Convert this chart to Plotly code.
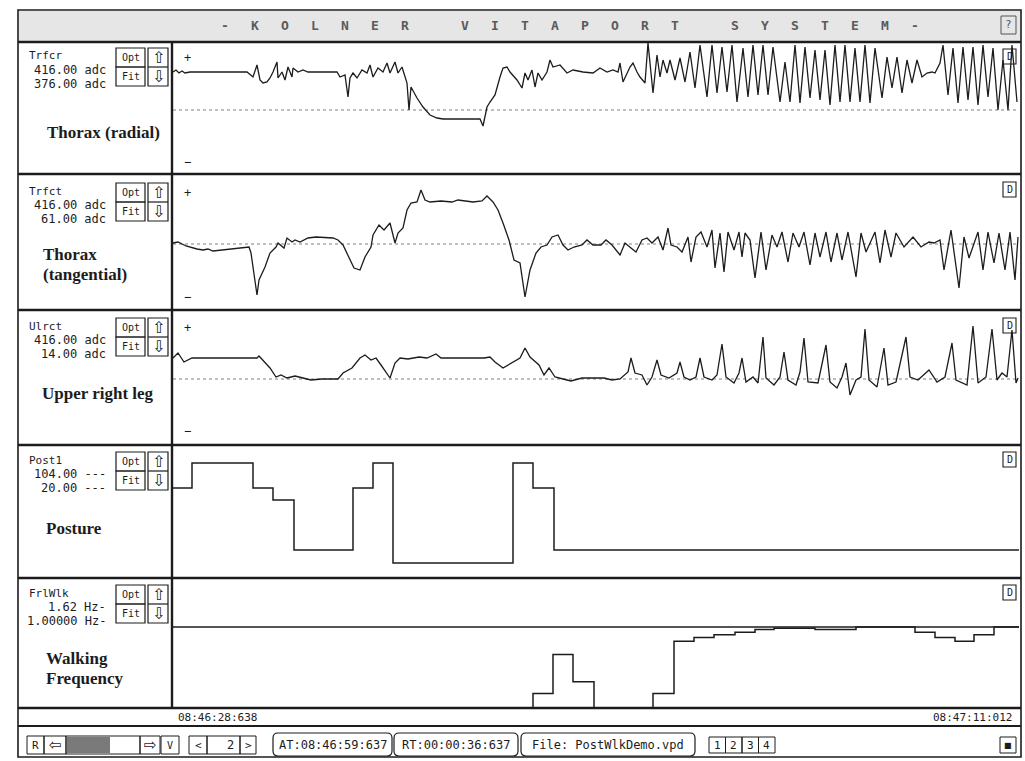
import plotly.graph_objects as go

# ---------------- data (sample index 0..846 across the displayed window) ----------------
N_SAMPLES = 846
TIME_START = "08:46:28:638"
TIME_END = "08:47:11:012"
CURSOR_AT = "AT:08:46:59:637"
CURSOR_RT = "RT:00:00:36:637"
FILE_NAME = "File: PostWlkDemo.vpd"
PAGE_NO = "2"
TITLE = "-KOLNER VITAPORT SYSTEM-"

channel_codes = ["Trfcr", "Trfct", "Ulrct", "Post1", "FrlWlk"]
scale_high = ["416.00 adc", "416.00 adc", "416.00 adc", "104.00 ---", "1.62 Hz-"]
scale_low = ["376.00 adc", "61.00 adc", "14.00 adc", "20.00 ---", "1.00000 Hz-"]
channel_titles = [["Thorax (radial)"], ["Thorax", "(tangential)"], ["Upper right leg"],
                  ["Posture"], ["Walking", "Frequency"]]

# Thorax (radial): (sample, amplitude above dotted baseline)
thorax_radial = [(0,38),(3,40),(6,37),(9,39),(12,37),(17,38),(70,38),(74,38),(80,33),(84,45),(87,30),(90,27),
    (94,28),(97,32),(100,38),(104,48),(105,32),(109,38),(112,30),(115,43),(119,33),(120,42),(125,38),(130,40),
    (135,38),(164,38),(167,33),(172,35),(175,13),(177,32),(180,37),(184,32),(189,40),(194,37),(197,45),(200,33),
    (205,42),(210,38),(214,47),(217,37),(222,48),(225,37),(229,43),(232,33),(234,27),(236,0),(238,23),(244,12),
    (250,3),(257,-5),(264,-8),(270,-9),(307,-9),(310,-16),(314,3),(317,8),(322,15),(327,33),(330,42),(334,43),
    (337,38),(344,30),(349,22),(352,37),(355,30),(359,40),(362,23),(365,37),(369,30),(374,38),(377,50),(380,43),
    (387,45),(394,37),(400,40),(410,38),(420,37),(427,42),(434,38),(440,40),(445,38),(447,47),(450,28),(457,43),
    (460,47),(464,38),(467,33),(472,27),(475,67),(480,17),(484,55),(487,33),(490,50),(494,37),(497,50),(502,30),
    (507,52),(512,28),(517,58),(522,22),(527,65),(534,13),(539,65),(544,17),(549,63),(554,18),(559,65),(564,8),
    (570,62),(575,13),(580,65),(585,15),(590,65),(595,15),(600,63),(607,8),(612,48),(617,8),(622,65),(627,7),
    (632,63),(637,12),(642,60),(647,10),(652,60),(657,5),(662,65),(667,8),(672,65),(677,8),(682,62),(687,8),
    (692,65),(697,7),(702,62),(709,12),(714,53),(719,22),(724,53),(729,17),(734,50),(739,27),(744,50),(749,33),
    (754,37),(759,38),(762,37),(767,47),(770,65),(775,15),(780,62),(785,7),(790,63),(795,10),(800,63),(805,5),
    (810,65),(815,13),(820,62),(825,0),(830,50),(835,0),(839,65),(844,8)]

# Thorax (tangential)
thorax_tangential = [(0,1),(5,2),(13,-2),(19,-4),(24,-5),(30,-6),(35,-5),(40,-7),(51,-6),(73,-4),(76,-3),(78,-9),
    (84,-51),(86,-36),(92,-23),(97,-9),(103,-3),(105,1),(111,-4),(114,6),(119,2),(122,4),(127,2),(135,6),(143,7),
    (160,6),(165,4),(170,-1),(176,-13),(181,-24),(187,-26),(192,-13),(198,-3),(200,9),(206,19),(211,14),(217,21),
    (222,1),(225,11),(230,16),(234,34),(238,41),(244,42),(248,54),(252,44),(257,42),(268,43),(279,42),(285,44),
    (295,43),(300,42),(309,43),(314,48),(320,42),(325,34),(330,21),(336,4),(341,-16),(347,-19),(352,-53),(357,-26),
    (363,-9),(368,-3),(374,-1),(379,7),(385,9),(390,-1),(395,-6),(401,-3),(409,-1),(414,4),(420,-1),(428,-1),
    (433,4),(439,-1),(447,-11),(452,1),(458,-4),(463,-8),(469,4),(474,6),(479,1),(485,7),(490,-6),(495,16),
    (498,-1),(504,-3),(509,-8),(515,7),(518,-18),(523,7),(528,12),(534,-3),(539,14),(542,-24),(547,11),(551,-28),
    (555,12),(561,-6),(566,12),(569,-13),(572,11),(577,4),(582,-34),(588,12),(593,-26),(599,9),(604,-3),(609,12),
    (615,-18),(620,11),(626,-3),(631,12),(637,-21),(642,11),(647,-13),(653,12),(658,-18),(664,11),(669,-16),
    (675,12),(683,-33),(688,11),(693,-8),(702,12),(707,-19),(712,14),(718,-13),(723,11),(731,-3),(740,7),(748,-3),
    (756,2),(761,1),(767,4),(771,-26),(778,14),(786,-44),(791,7),(796,-14),(805,12),(810,-26),(815,12),(821,-19),
    (826,11),(832,-26),(837,12),(842,-36),(845,7)]

# Upper right leg
upper_right_leg = [(0,21),(5,26),(11,17),(19,21),(30,21),(84,21),(86,23),(92,17),(97,11),(103,2),(108,4),(114,1),
    (122,3),(130,1),(138,-1),(149,0),(165,0),(170,6),(179,11),(187,21),(192,24),(198,19),(203,21),(208,14),(217,1),
    (222,16),(227,21),(235,20),(246,22),(254,21),(263,25),(268,21),(279,21),(311,21),(317,22),(322,17),(330,11),
    (338,16),(347,21),(352,31),(357,22),(366,14),(371,4),(376,11),(382,2),(390,0),(398,-2),(409,1),(425,1),(431,1),
    (439,-1),(447,0),(455,7),(458,21),(462,6),(469,4),(474,-6),(479,2),(484,19),(488,4),(496,1),(504,6),(507,17),
    (511,2),(517,-1),(523,2),(527,21),(531,2),(539,-1),(544,4),(549,35),(553,2),(561,-4),(566,6),(569,21),(573,-3),
    (580,2),(585,-4),(590,42),(593,1),(601,-6),(607,2),(611,27),(615,-1),(623,-6),(627,7),(631,41),(635,-3),
    (645,-4),(653,34),(657,-3),(664,-9),(669,2),(673,16),(677,-16),(683,-1),(688,2),(692,50),(696,-1),(704,-8),
    (711,31),(715,-6),(723,-3),(733,42),(737,2),(745,-1),(756,9),(764,-3),(772,2),(779,36),(783,-1),(794,-6),
    (800,53),(805,-4),(813,2),(819,50),(824,-1),(829,6),(834,2),(839,49),(843,-4),(845,1)]

# Posture (step levels)
posture_t = [0, 19, 80, 100, 121, 180, 200, 220, 340, 360, 381, 846]
posture_v = [90, 115, 90, 78, 28, 90, 115, 15, 115, 90, 28, 28]

# Walking frequency (Hz, steps)
walk_t = [0, 360, 380, 400, 421, 480, 501, 521, 541, 562, 582, 601, 642, 683, 742, 762, 782, 801, 821, 846]
walk_hz = [1.00, 1.11, 1.41, 1.20, 1.00, 1.11, 1.51, 1.54, 1.56, 1.58, 1.60, 1.61, 1.60, 1.62, 1.58, 1.54,
           1.51, 1.56, 1.62, 1.62]
WALK_LIMIT_HZ = 1.62

# ---------------- layout helpers (pixel -> paper) ----------------
W, H = 1025, 761
def X(px): return px / W
def Y(py): return 1 - py / H

MONO = "DejaVu Sans Mono"
SERIF = "Liberation Serif"
INK = "#1c1c1c"

PLOT_L, PLOT_R = 173, 1019
panels = [  # (top px, bottom px, y range)
    (43, 173, (-63, 67)),
    (175, 309, (-65, 69)),
    (311, 444, (-65, 68)),
    (446, 577, (1, 132)),
    (579, 708, (1.0, 1.987)),
]

fig = go.Figure()

def ax(i):
    return ("x", "y") if i == 1 else (f"x{i}", f"y{i}")

signals = [
    ([p[0] for p in thorax_radial], [p[1] for p in thorax_radial], "linear"),
    ([p[0] for p in thorax_tangential], [p[1] for p in thorax_tangential], "linear"),
    ([p[0] for p in upper_right_leg], [p[1] for p in upper_right_leg], "linear"),
    (posture_t, posture_v, "hv"),
    (walk_t, walk_hz, "hv"),
]
for i, (t, v, shp) in enumerate(signals, start=1):
    xa, ya = ax(i)
    fig.add_trace(go.Scatter(x=t, y=v, mode="lines", xaxis=xa, yaxis=ya, hoverinfo="skip",
                             line=dict(color=INK, width=1.5 if shp == "hv" else 1.3, shape=shp)))

layout = dict(width=W, height=H, margin=dict(l=0, r=0, t=0, b=0), paper_bgcolor="white",
              plot_bgcolor="rgba(0,0,0,0)", showlegend=False)
for i, (top, bot, rng) in enumerate(panels, start=1):
    sx = "" if i == 1 else str(i)
    layout[f"xaxis{sx}"] = dict(domain=[X(PLOT_L), X(PLOT_R)], range=[0, N_SAMPLES], visible=False,
                                anchor=f"y{sx}", fixedrange=True)
    layout[f"yaxis{sx}"] = dict(domain=[Y(bot), Y(top)], range=list(rng), visible=False,
                                anchor=f"x{sx}", fixedrange=True)
fig.update_layout(**layout)

shapes = []
annots = []

def line(x0, y0, x1, y1, w=1.0, color=INK, dash=None):
    d = dict(color=color, width=w)
    if dash: d["dash"] = dash
    shapes.append(dict(type="line", xref="paper", yref="paper", x0=X(x0), y0=Y(y0), x1=X(x1), y1=Y(y1),
                       line=d, layer="above"))

def rect(x0, y0, x1, y1, w=1.0, color=INK, fill="rgba(0,0,0,0)", layer="above"):
    shapes.append(dict(type="rect", xref="paper", yref="paper", x0=X(x0), y0=Y(y1), x1=X(x1), y1=Y(y0),
                       line=dict(color=color, width=w), fillcolor=fill, layer=layer))

def rrect(x0, y0, x1, y1, r=5, w=1.2):
    rx, ry = r / W, r / H
    L, R, T, B = X(x0), X(x1), Y(y0), Y(y1)
    path = (f"M {L+rx},{T} L {R-rx},{T} Q {R},{T} {R},{T-ry} L {R},{B+ry} Q {R},{B} {R-rx},{B} "
            f"L {L+rx},{B} Q {L},{B} {L},{B+ry} L {L},{T-ry} Q {L},{T} {L+rx},{T} Z")
    shapes.append(dict(type="path", xref="paper", yref="paper", path=path,
                       line=dict(color=INK, width=w), layer="above"))

def txt(x, y, s, size=12, anchor="left", font=MONO, color=INK):
    annots.append(dict(x=X(x), y=Y(y), xref="paper", yref="paper", text=s, showarrow=False,
                       xanchor=anchor, yanchor="middle", font=dict(family=font, size=size, color=color)))

# window + title bar
rect(19, 11, 1020, 42, w=0, fill="#e6e6e6", layer="below")
rect(18, 10, 1021, 757, w=1.6)
for k, ch in enumerate(TITLE):
    if ch != " ":
        txt(225 + k * 30, 26, "<b>" + ch + "</b>", size=13, anchor="center", color="#5a5a5a")
rect(1001, 16, 1016, 34, w=1, color="#555")
txt(1008.5, 25, "?", size=11, anchor="center", color="#555")

# separators
for yy in [42, 174, 310, 445, 578, 708]:
    line(18, yy, 1021, yy, w=2.4)
line(18, 726, 1021, 726, w=2.0)
line(172, 42, 172, 708, w=2.4)

# panel left column
opt_tops = [48, 183, 318, 452, 585]
title_rows = [[132], [255, 274], [393], [528], [658, 678]]
title_x = [45, 41, 40, 44, 44]
plus_minus = [(58, 162), (193, 297), (328, 431)]
d_boxes = [49, 182, 318, 452, 585]
for i in range(5):
    ot = opt_tops[i]
    txt(27, ot + 8, channel_codes[i], size=11)
    txt(108, ot + 22, scale_high[i], size=12, anchor="right")
    txt(108, ot + 36, scale_low[i], size=12, anchor="right")
    rect(116, ot, 145, ot + 19, w=1.2)
    rect(116, ot + 19, 145, ot + 38, w=1.2)
    txt(130.5, ot + 9.5, "Opt", size=10, anchor="center")
    txt(130.5, ot + 28.5, "Fit", size=10, anchor="center")
    rect(148, ot, 168, ot + 38, w=1.2)
    line(148, ot + 19, 168, ot + 19, w=1.2)
    txt(158, ot + 9.5, "⇧", size=16, anchor="center", font="DejaVu Sans")
    txt(158, ot + 28.5, "⇩", size=16, anchor="center", font="DejaVu Sans")
    for row, yy in zip(channel_titles[i], title_rows[i]):
        txt(title_x[i], yy, "<b>" + row + "</b>", size=17, font=SERIF)
    rect(1003, d_boxes[i], 1016, d_boxes[i] + 15, w=1.1, fill="white", layer="below")
    txt(1009.5, d_boxes[i] + 7.5, "D", size=10, anchor="center")
for (yp, ym) in plus_minus:
    txt(187, yp, "+", size=12, anchor="center")
    txt(187, ym, "−", size=12, anchor="center")

# dotted baselines and walking-frequency limit line
for i in (1, 2, 3):
    shapes.append(dict(type="line", xref="paper", yref=ax(i)[1], x0=X(PLOT_L), x1=X(PLOT_R), y0=0, y1=0,
                       line=dict(color="#808080", width=1.2, dash="dot"), layer="below"))
shapes.append(dict(type="line", xref="paper", yref="y5", x0=X(PLOT_L), x1=X(PLOT_R),
                   y0=WALK_LIMIT_HZ, y1=WALK_LIMIT_HZ, line=dict(color=INK, width=1.6), layer="below"))

# time bar
txt(176, 717, TIME_START, size=11)
txt(1014, 717, TIME_END, size=11, anchor="right")

# control bar
by0, by1 = 736, 754
bm = (by0 + by1) / 2
rect(27, by0, 44, by1); txt(35.5, bm, "R", size=11, anchor="center")
rect(44, by0, 66, by1); txt(55, bm, "⇦", size=15, anchor="center", font="DejaVu Sans")
rect(67, by0 + 1, 110, by1 - 1, w=0, fill="#7a7a7a")
rect(66, by0, 140, by1)
rect(140, by0, 160, by1); txt(150, bm, "⇨", size=15, anchor="center", font="DejaVu Sans")
rect(161, by0, 179, by1); txt(170, bm, "V", size=10, anchor="center")
rect(189, by0, 207, by1); txt(198, bm, "<", size=11, anchor="center")
rect(207, by0, 240, by1); txt(236, bm, PAGE_NO, size=12, anchor="right")
rect(240, by0, 256, by1); txt(248, bm, ">", size=11, anchor="center")
rrect(273, 733, 392, 756); txt(332.5, 745, CURSOR_AT, size=12, anchor="center")
rrect(394, 733, 518, 756); txt(456, 745, CURSOR_RT, size=12, anchor="center")
rrect(521, 733, 695, 756); txt(608, 745, FILE_NAME, size=12, anchor="center")
for k, lab in enumerate(["1", "2", "3", "4"]):
    x0 = 709 + k * 16.5
    rect(x0, 737, x0 + 16.5, 753)
    txt(x0 + 8.25, 745, lab, size=11, anchor="center")
rect(1000, 737, 1016, 753)
txt(1008, 745, "■", size=8, anchor="center", font="DejaVu Sans")

fig.update_layout(shapes=shapes, annotations=annots)
fig.write_html("out.html")
